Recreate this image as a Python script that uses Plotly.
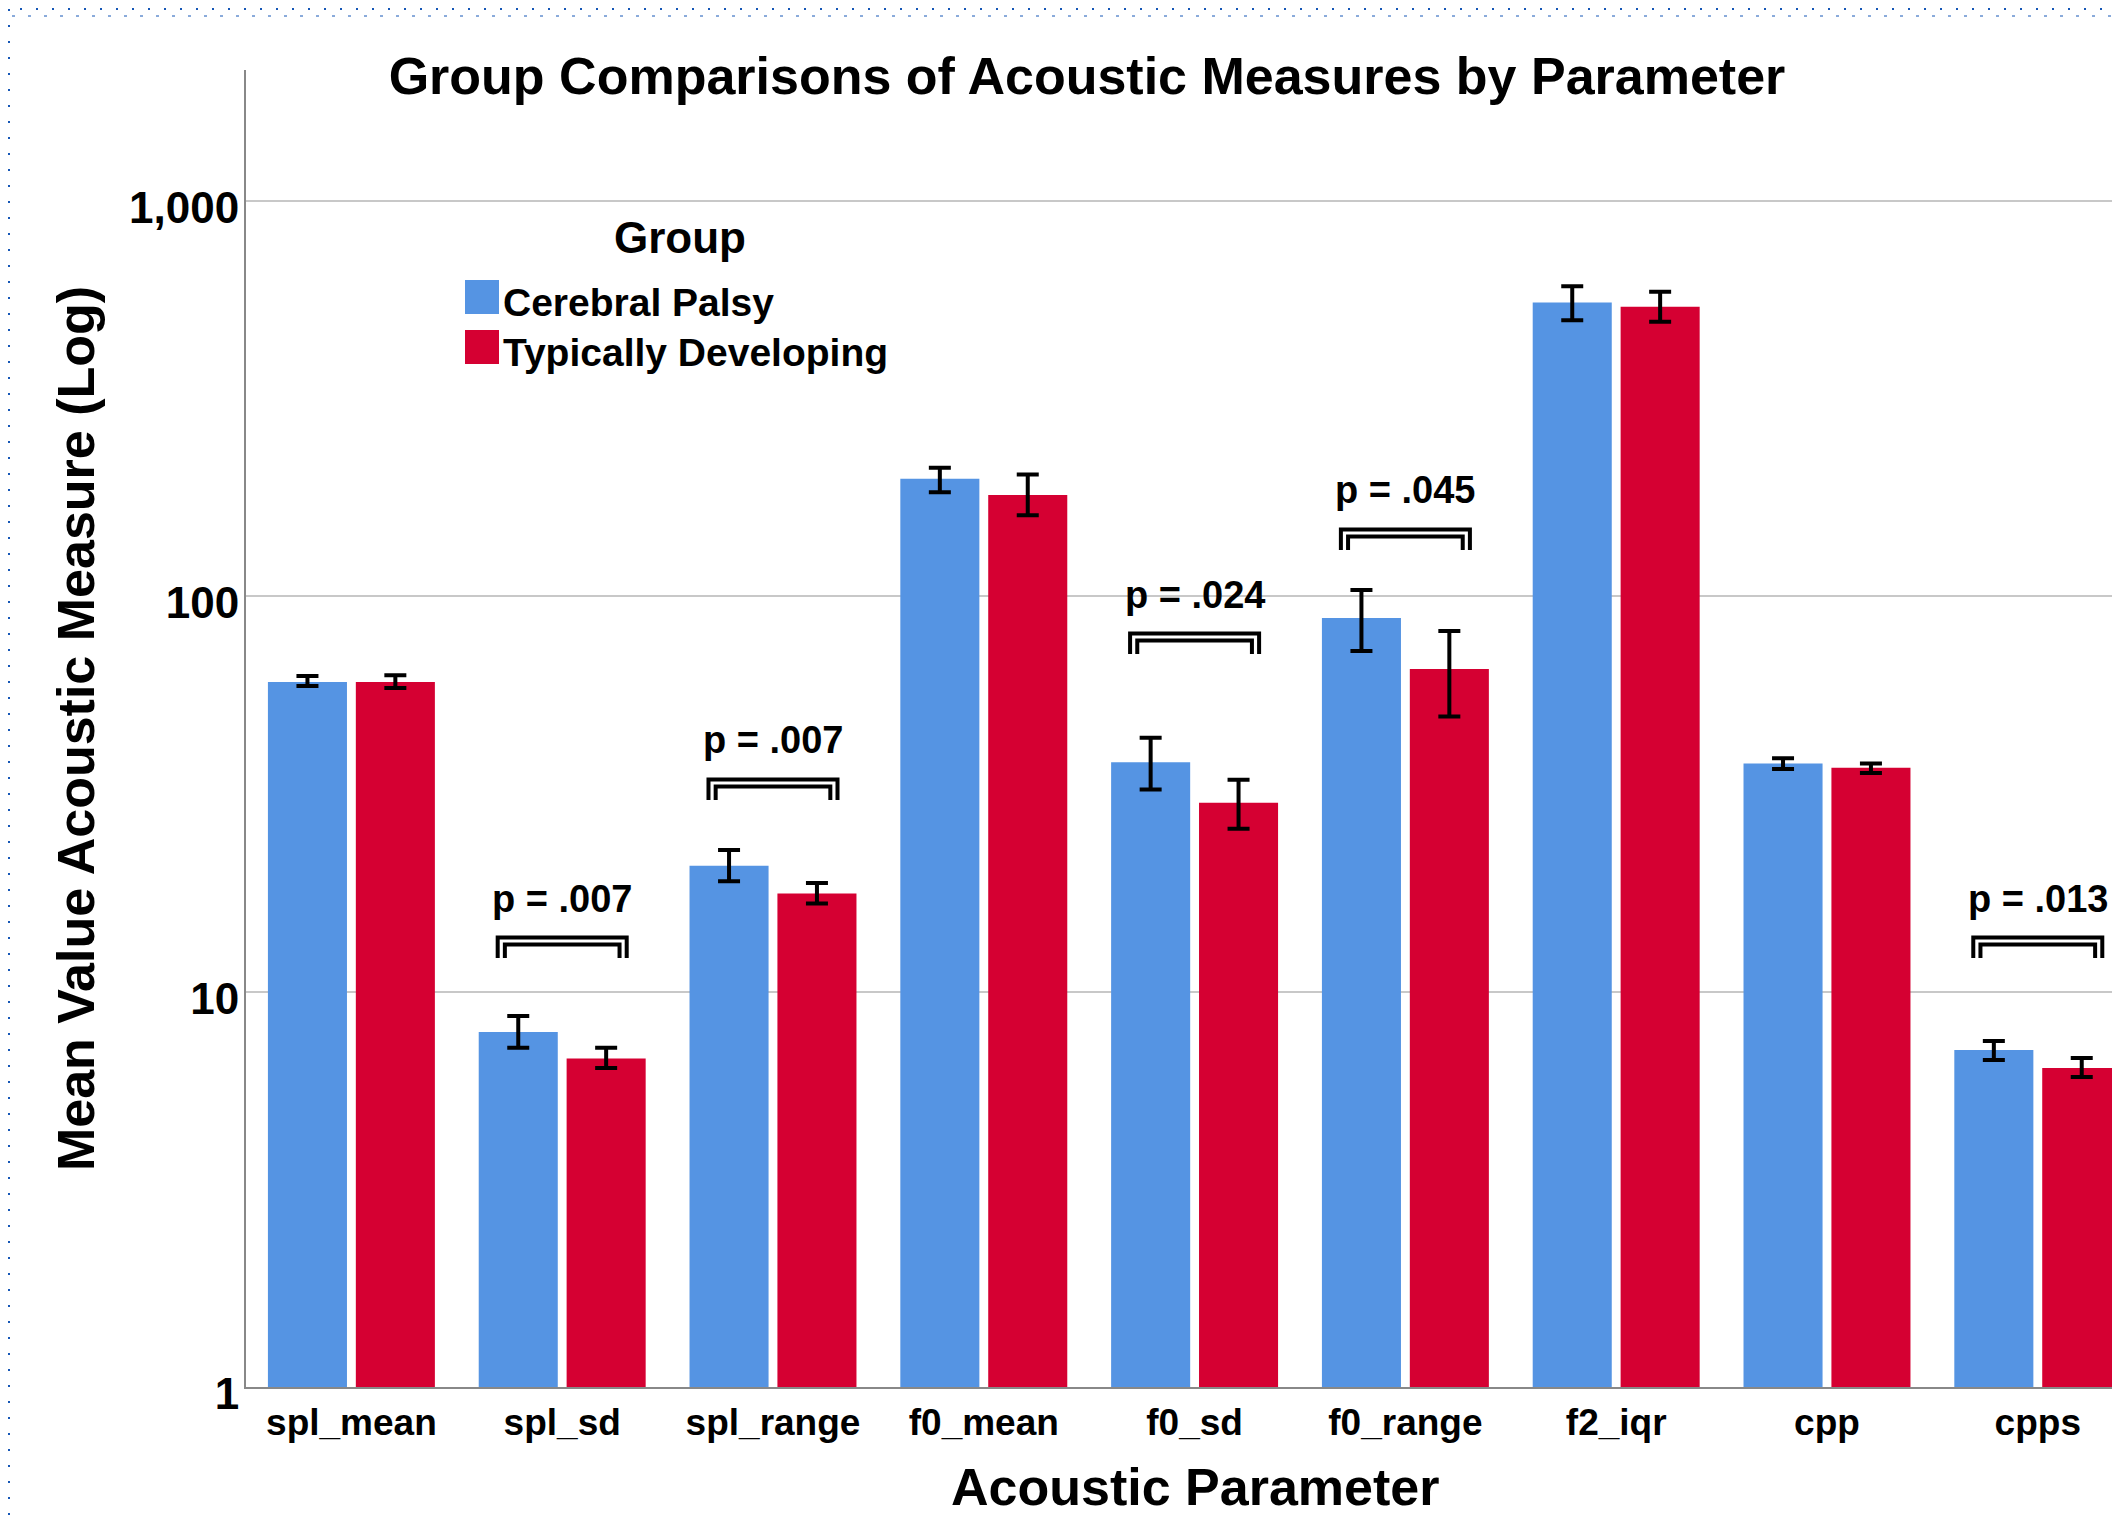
import numpy as np
import plotly.graph_objects as go

# ---------------- data ----------------
categories = ["spl_mean", "spl_sd", "spl_range", "f0_mean", "f0_sd",
              "f0_range", "f2_iqr", "cpp", "cpps"]
groups = ["Cerebral Palsy", "Typically Developing"]

cp_mean = [60.6, 7.90, 20.8, 198, 38.0, 88.0, 552, 37.7, 7.11]
cp_lower = [59.2, 7.21, 19.0, 183, 32.4, 72.6, 498, 36.5, 6.71]
cp_upper = [62.8, 8.67, 22.8, 211, 43.8, 103.6, 607, 38.9, 7.50]

td_mean = [60.6, 6.77, 17.7, 180, 30.0, 65.4, 539, 36.8, 6.41]
td_lower = [58.5, 6.41, 16.7, 160, 25.8, 49.6, 494, 35.7, 6.08]
td_upper = [63.0, 7.21, 18.8, 203, 34.3, 81.6, 588, 37.7, 6.79]

sig_categories = ["spl_sd", "spl_range", "f0_sd", "f0_range", "cpps"]
sig_labels = ["p = .007", "p = .007", "p = .024", "p = .045", "p = .013"]
sig_base = [12.15, 30.5, 71.3, 130.7, 12.15]

y_tickvals = [1, 10, 100, 1000]
y_ticktext = ["1", "10", "100", "1,000"]

# ---------------- styling ----------------
BLUE = "#5594E3"
RED = "#D50032"
FONT = "Liberation Sans"
OFF = 8                      # browser body margin
W, H = 2120 - OFF, 1521 - OFF
ML, MT = 246 - OFF, 70 - OFF
MR = 0
MB = H - (1387 - OFF)
PW, PH = W - ML - MR, H - MT - MB

def fpx(x):   # figure pixel -> paper x
    return (x - ML) / PW

def fpy(y):   # figure pixel -> paper y
    return (H - MB - y) / PH

def wpx(x):   # window pixel -> paper x
    return fpx(x - OFF)

def wpy(y):   # window pixel -> paper y
    return fpy(y - OFF)

xpos = np.arange(len(categories))

fig = go.Figure()

bar_w = 0.375
for name, mean, lo, hi, col, off in [
    (groups[0], cp_mean, cp_lower, cp_upper, BLUE, -0.396),
    (groups[1], td_mean, td_lower, td_upper, RED, 0.021),
]:
    mean = np.array(mean, dtype=float)
    fig.add_trace(go.Bar(
        x=xpos, y=mean, name=name, width=bar_w, offset=off,
        marker=dict(color=col, line=dict(width=0)),
        error_y=dict(type="data", symmetric=False,
                     array=np.array(hi) - mean, arrayminus=mean - np.array(lo),
                     color="black", thickness=4, width=11),
        showlegend=False,
    ))

# significance brackets (double bracket)
annotations = []
for cat, lab, base in zip(sig_categories, sig_labels, sig_base):
    c = categories.index(cat)
    for half, fac in [(0.306, 1.127), (0.272, 1.082)]:
        top = base * fac
        fig.add_trace(go.Scatter(
            x=[c - half, c - half, c + half, c + half],
            y=[base, top, top, base],
            mode="lines", line=dict(color="black", width=4),
            hoverinfo="skip", showlegend=False,
        ))
    annotations.append(dict(
        x=c, y=np.log10(base * 1.127), xref="x", yref="y",
        text=lab, showarrow=False, xanchor="center", yanchor="middle",
        yshift=39, font=dict(family=FONT, size=38, color="black", weight="bold"),
    ))

# x axis title (placed as annotation so it can sit near the bottom edge)
annotations.append(dict(
    x=wpx(1195), y=wpy(1487), xref="paper", yref="paper",
    text="Acoustic Parameter", showarrow=False,
    xanchor="center", yanchor="middle",
    font=dict(family=FONT, size=52, color="black", weight="bold")))

# manual legend
shapes = []
annotations.append(dict(
    x=wpx(680), y=wpy(238), xref="paper", yref="paper", text="Group",
    showarrow=False, xanchor="center", yanchor="middle",
    font=dict(family=FONT, size=44, color="black", weight="bold")))
for i, (g, col) in enumerate(zip(groups, [BLUE, RED])):
    y0 = 280 + i * 50
    shapes.append(dict(type="rect", xref="paper", yref="paper",
                       x0=wpx(465), x1=wpx(499), y0=wpy(y0), y1=wpy(y0 + 34),
                       fillcolor=col, line=dict(width=0)))
    annotations.append(dict(
        x=wpx(501), y=wpy(y0 + 22), xref="paper", yref="paper", text=g,
        showarrow=False, xanchor="left", yanchor="middle",
        font=dict(family=FONT, size=39, color="black", weight="bold")))

# dotted selection border (figure pixel coordinates)
DOT = "#1556B6"
for (x0, yy, w, dash) in [(12, 1, 2, "2px,14px"), (4, 8, 1, "3px,13px")]:
    shapes.append(dict(type="line", xref="paper", yref="paper",
                       x0=fpx(x0), x1=fpx(W), y0=fpy(yy), y1=fpy(yy),
                       line=dict(color=DOT, width=w, dash=dash)))
shapes.append(dict(type="line", xref="paper", yref="paper",
                   x0=fpx(1), x1=fpx(1), y0=fpy(1), y1=fpy(H),
                   line=dict(color=DOT, width=2, dash="2px,14px")))

fig.update_layout(
    width=W, height=H,
    margin=dict(l=ML, r=MR, t=MT, b=MB, autoexpand=False),
    paper_bgcolor="white", plot_bgcolor="white",
    barmode="overlay",
    title=dict(text="Group Comparisons of Acoustic Measures by Parameter",
               xref="container", yref="container",
               x=(1087 - OFF) / W, y=1 - (76 - OFF) / H,
               xanchor="center", yanchor="middle",
               font=dict(family=FONT, size=52, color="black", weight="bold")),
    xaxis=dict(
        range=[-0.5, 8.39], tickmode="array", tickvals=xpos, ticktext=categories,
        showgrid=False, zeroline=False, showline=True, linecolor="#888888", linewidth=2,
        ticks="", ticklen=0, ticklabelstandoff=2,
        tickfont=dict(family=FONT, size=37, color="black", weight="bold"),
    ),
    yaxis=dict(
        type="log", range=[0, 3.33], tickmode="array",
        tickvals=y_tickvals, ticktext=y_ticktext,
        showgrid=True, gridcolor="#C8C8C8", gridwidth=1.5,
        zeroline=False, showline=True, linecolor="#888888", linewidth=2,
        ticks="", ticklen=0, ticklabelstandoff=-4, ticklabelshift=7,
        tickfont=dict(family=FONT, size=44, color="black", weight="bold"),
        title=dict(text="Mean Value Acoustic Measure (Log)", standoff=18,
                   font=dict(family=FONT, size=52, color="black", weight="bold")),
    ),
    annotations=annotations,
    shapes=shapes,
)

fig.write_html("out.html")
